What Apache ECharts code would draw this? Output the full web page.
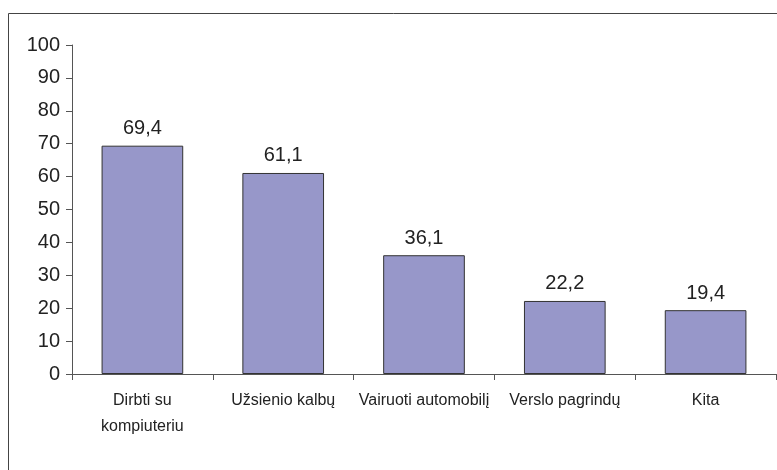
<!DOCTYPE html>
<html>
<head>
    <meta charset="UTF-8">
    <title>Įgūdžiai</title>
    <script src="https://cdn.jsdelivr.net/npm/echarts@6/dist/echarts.min.js"></script>
    <style>
        html, body { margin: 0; padding: 0; background: #fff; }
    </style>
</head>
<body>
    <div id="main" style="width:777px;height:470px;"></div>
    <script>
        var categories = ['Dirbti su\nkompiuteriu', 'Užsienio kalbų', 'Vairuoti automobilį', 'Verslo pagrindų', 'Kita'];
        var values = [69.4, 61.1, 36.1, 22.2, 19.4];

        var myChart = echarts.init(document.getElementById('main'));

        var option = {
            animation: false,
            // outer frame of the chart area
            graphic: [{
                type: 'rect',
                shape: { x: 8.5, y: 13.5, width: 800, height: 500 },
                style: { fill: 'none', stroke: '#444', lineWidth: 1 },
                silent: true
            }],
            grid: { left: 72, top: 45, right: 1, bottom: 96 },
            xAxis: {
                type: 'category',
                data: categories,
                axisLine: { lineStyle: { color: '#555', width: 1 } },
                axisTick: { show: true, length: 6, alignWithLabel: false, lineStyle: { color: '#555' } },
                axisLabel: {
                    color: '#222',
                    fontFamily: 'Liberation Sans, Arial',
                    fontSize: 16,
                    lineHeight: 26,
                    margin: 14,
                    interval: 0
                }
            },
            yAxis: {
                type: 'value',
                min: 0,
                max: 100,
                interval: 10,
                splitLine: { show: false },
                axisLine: { show: true, lineStyle: { color: '#555', width: 1 } },
                axisTick: { show: true, length: 6, lineStyle: { color: '#555' } },
                axisLabel: {
                    color: '#222',
                    fontFamily: 'Liberation Sans, Arial',
                    fontSize: 20,
                    margin: 12
                }
            },
            series: [{
                type: 'bar',
                data: values,
                barWidth: '58%',
                itemStyle: { color: '#9797c9', borderColor: '#333', borderWidth: 1 },
                label: {
                    show: true,
                    position: 'top',
                    distance: 7,
                    color: '#222',
                    fontFamily: 'Liberation Sans, Arial',
                    fontSize: 20,
                    formatter: function (p) {
                        return p.value.toFixed(1).replace('.', ',');
                    }
                }
            }]
        };

        myChart.setOption(option);
    </script>
</body>
</html>
